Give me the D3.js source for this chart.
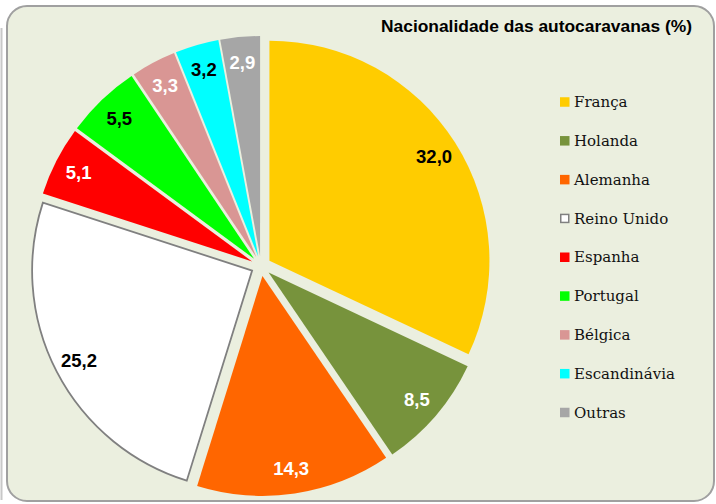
<!DOCTYPE html>
<html>
<head>
<meta charset="utf-8">
<script src="https://cdn.jsdelivr.net/npm/d3@7"></script>
<style>
  html, body { margin: 0; padding: 0; background: #ffffff; }
  svg { display: block; }
</style>
</head>
<body>
<svg id="chart" width="716" height="504"></svg>
<script>
// ---- data ----
const categories = ["França", "Holanda", "Alemanha", "Reino Unido", "Espanha", "Portugal", "Bélgica", "Escandinávia", "Outras"];
const values = [32.0, 8.5, 14.3, 25.2, 5.1, 5.5, 3.3, 3.2, 2.9];
const colors = ["#FFCC00", "#77933C", "#FF6600", "#FFFFFF", "#FF0000", "#00FF00", "#D99694", "#00FFFF", "#A6A6A6"];
const labelColors = ["#000000", "#FFFFFF", "#FFFFFF", "#000000", "#FFFFFF", "#000000", "#FFFFFF", "#000000", "#FFFFFF"];
const title = "Nacionalidade das autocaravanas (%)";

// ---- layout ----
const W = 716, H = 504;
const cx = 261, cy = 266, R = 220, explode = 10, labelR = 205;

const svg = d3.select("#chart");

// faint outer frame line at far left
svg.append("line")
  .attr("x1", 1.5).attr("x2", 1.5).attr("y1", 28).attr("y2", 500)
  .attr("stroke", "#c8c8c8").attr("stroke-width", 2);

// chart area background
svg.append("rect")
  .attr("x", 7).attr("y", 6).attr("width", 707).attr("height", 495)
  .attr("rx", 20).attr("ry", 20)
  .attr("fill", "#EBEFDF").attr("stroke", "#A0A0A0").attr("stroke-width", 2);

// title
svg.append("text")
  .attr("x", 381).attr("y", 32)
  .attr("font-family", "'Liberation Sans Narrow', 'Liberation Sans', Arial, sans-serif")
  .attr("font-weight", "bold").attr("font-size", 16.5)
  .attr("textLength", 311).attr("lengthAdjust", "spacingAndGlyphs")
  .attr("fill", "#000").text(title);

// pie
const data = categories.map((c, i) => ({ name: c, value: values[i], color: colors[i], lc: labelColors[i] }));
const pie = d3.pie().value(d => d.value).sort(null).startAngle(0).endAngle(2 * Math.PI);
const arcs = pie(data);
const arc = d3.arc().innerRadius(0).outerRadius(R);

const g = svg.append("g").attr("transform", `translate(${cx},${cy})`);

const slices = g.selectAll("g.slice").data(arcs).join("g").attr("class", "slice")
  .attr("transform", d => {
    const a = (d.startAngle + d.endAngle) / 2;
    return `translate(${explode * Math.sin(a)},${-explode * Math.cos(a)})`;
  });

slices.append("path")
  .attr("d", arc)
  .attr("fill", d => d.data.color)
  .attr("stroke", d => d.data.name === "Reino Unido" ? "#808080" : "none")
  .attr("stroke-width", 1.8)
  .attr("stroke-linejoin", "miter");

g.selectAll("text.lbl").data(arcs).join("text").attr("class", "lbl")
  .attr("x", d => labelR * Math.sin((d.startAngle + d.endAngle) / 2))
  .attr("y", d => -labelR * Math.cos((d.startAngle + d.endAngle) / 2))
  .attr("dy", "0.36em")
  .attr("text-anchor", "middle")
  .attr("font-family", "'Liberation Sans', Arial, sans-serif")
  .attr("font-weight", "bold").attr("font-size", 18.5)
  .attr("fill", d => d.data.lc)
  .text(d => d3.format(".1f")(d.data.value).replace(".", ","));

// legend
const ly = d3.scalePoint().domain(categories).range([102, 412.5]);
const leg = svg.append("g").selectAll("g").data(data).join("g")
  .attr("transform", d => `translate(560,${ly(d.name)})`);
leg.append("rect")
  .attr("x", d => d.name === "Reino Unido" ? 0.75 : 0)
  .attr("y", d => d.name === "Reino Unido" ? -4 : -4.75)
  .attr("width", d => d.name === "Reino Unido" ? 8 : 9.5)
  .attr("height", d => d.name === "Reino Unido" ? 8 : 9.5)
  .attr("fill", d => d.color)
  .attr("stroke", d => d.name === "Reino Unido" ? "#808080" : "none")
  .attr("stroke-width", 1.5);
leg.append("text")
  .attr("x", 14).attr("y", 5.2)
  .attr("font-family", "'DejaVu Serif', serif")
  .attr("font-size", 15)
  .attr("fill", "#111")
  .text(d => d.name);
</script>
</body>
</html>
